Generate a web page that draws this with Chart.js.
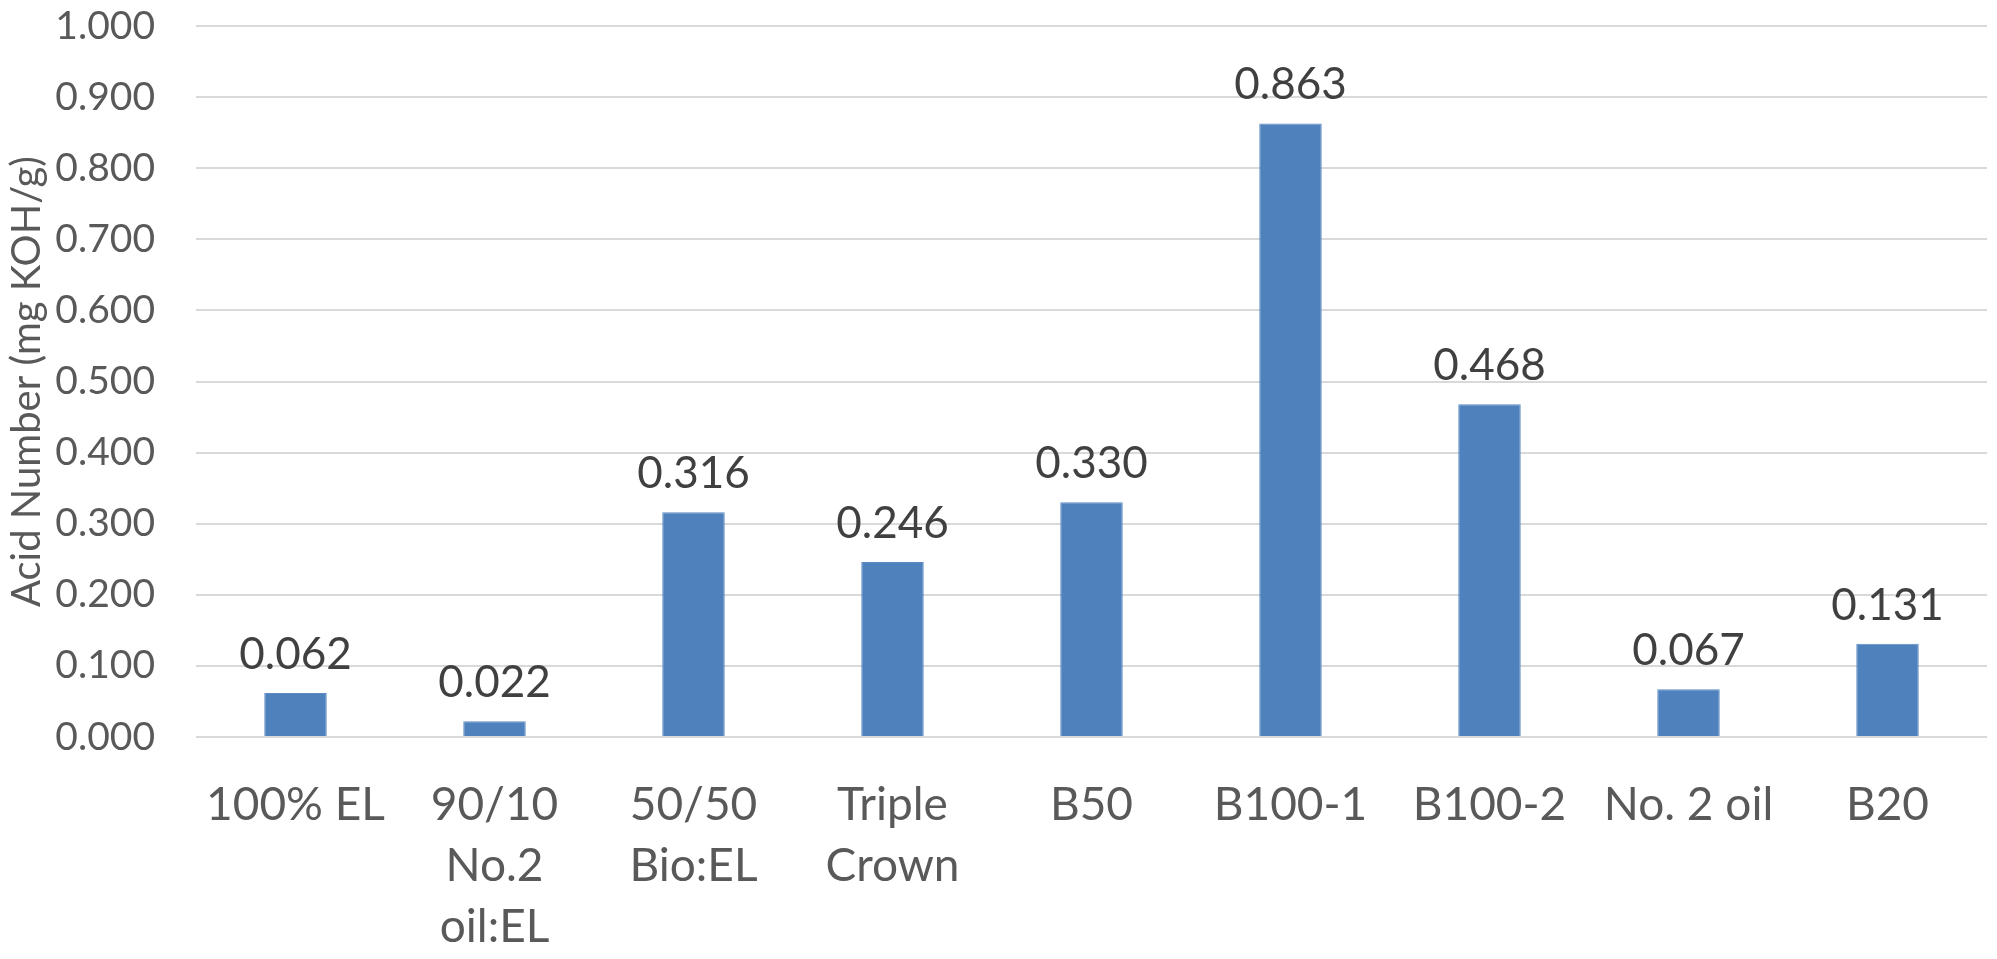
<!DOCTYPE html>
<html>
<head>
<meta charset="utf-8">
<script src="https://cdn.jsdelivr.net/npm/chart.js@4/dist/chart.umd.min.js"></script>
<style>
  html, body { margin: 0; padding: 0; background: #ffffff; }
  #wrap { width: 1997px; height: 959px; }
</style>
</head>
<body>
<div id="wrap"><canvas id="c" width="1997" height="959"></canvas></div>
<script>
// Fuel samples and their measured acid numbers (mg KOH/g)
const categories = [
  '100% EL',
  ['90/10', 'No.2', 'oil:EL'],
  ['50/50', 'Bio:EL'],
  ['Triple', 'Crown'],
  'B50',
  'B100-1',
  'B100-2',
  'No. 2 oil',
  'B20'
];
const acidNumbers = [0.062, 0.022, 0.316, 0.246, 0.330, 0.863, 0.468, 0.067, 0.131];
const yTicks = [0, 0.1, 0.2, 0.3, 0.4, 0.5, 0.6, 0.7, 0.8, 0.9, 1.0];
const yAxisTitle = 'Acid Number (mg KOH/g)';

const FONT = 'Lato, "Open Sans", sans-serif';

// Writes each bar's value just above it
const valueLabels = {
  id: 'valueLabels',
  afterDatasetsDraw(chart) {
    const ctx = chart.ctx;
    const meta = chart.getDatasetMeta(0);
    const data = chart.data.datasets[0].data;
    ctx.save();
    ctx.font = '44px ' + FONT;
    ctx.fillStyle = '#404040';
    ctx.textAlign = 'center';
    ctx.textBaseline = 'alphabetic';
    meta.data.forEach((bar, i) => {
      ctx.fillText(data[i].toFixed(3), bar.x, bar.y - 24);
    });
    ctx.restore();
  }
};

new Chart(document.getElementById('c'), {
  type: 'bar',
  data: {
    labels: categories,
    datasets: [{
      data: acidNumbers,
      backgroundColor: '#4F81BD',
      borderColor: '#5B8AC4',
      borderWidth: 1,
      categoryPercentage: 1.0,
      barPercentage: 0.314
    }]
  },
  options: {
    responsive: false,
    animation: false,
    devicePixelRatio: 1,
    layout: { padding: { top: 26, right: 10, left: 0, bottom: 0 } },
    plugins: {
      legend: { display: false },
      tooltip: { enabled: false }
    },
    scales: {
      x: {
        offset: true,
        grid: { display: false, drawTicks: false },
        border: { display: false },
        ticks: {
          color: '#595959',
          font: { family: FONT, size: 46, lineHeight: 1.32 },
          padding: 38,
          maxRotation: 0,
          autoSkip: false
        },
        afterFit(scale) { scale.height = 222; }
      },
      y: {
        min: 0,
        max: 1,
        afterBuildTicks(scale) { scale.ticks = yTicks.map(v => ({ value: v })); },
        grid: { color: '#D9D9D9', lineWidth: 2, drawTicks: false },
        border: { display: false },
        ticks: {
          color: '#595959',
          font: { family: FONT, size: 39 },
          padding: 41,
          callback: v => Number(v).toFixed(3)
        },
        title: {
          display: true,
          text: yAxisTitle,
          color: '#595959',
          font: { family: FONT, size: 40 },
          padding: { top: 3, bottom: 0 }
        },
        afterFit(scale) {
          scale.width = 196;
          scale.paddingTop = 0;
          scale.paddingBottom = 0;
        }
      }
    }
  },
  plugins: [valueLabels]
});
</script>
</body>
</html>
